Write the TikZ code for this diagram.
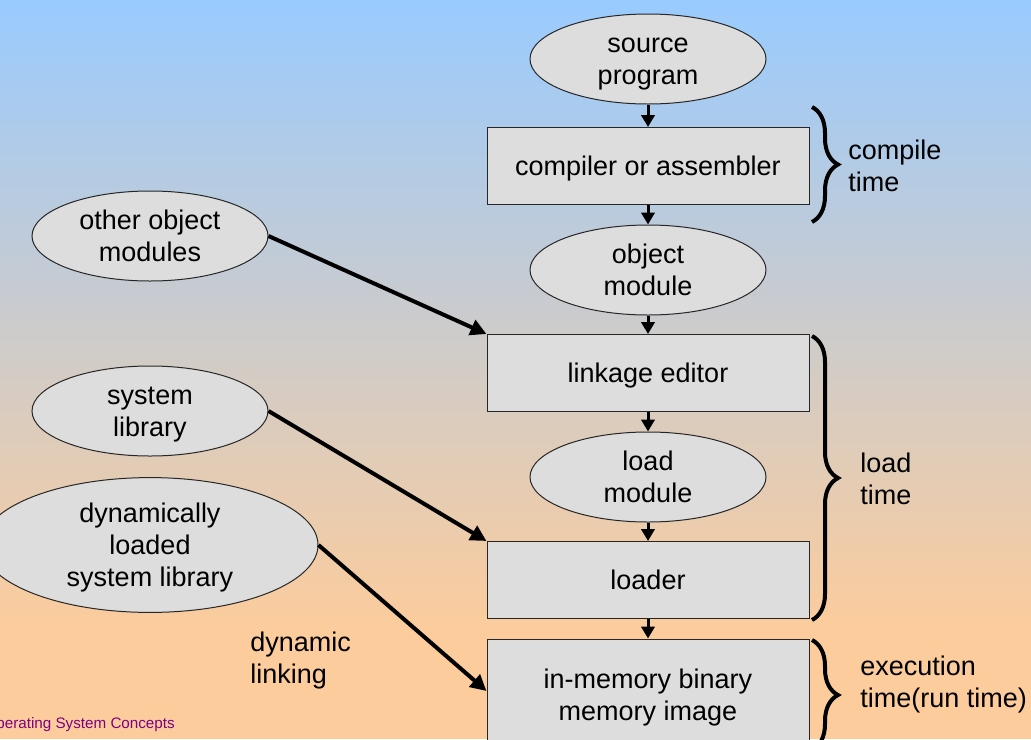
\documentclass[tikz,border=0pt]{standalone}
\usepackage{fontspec}
\setmainfont{Liberation Sans}
\usetikzlibrary{shapes.geometric,arrows.meta,decorations.pathreplacing}

\definecolor{skyblue}{RGB}{153,203,255}
\definecolor{lavender}{RGB}{212,203,218}
\definecolor{peach}{RGB}{252,204,156}
\definecolor{boxgray}{RGB}{221,221,221}
\definecolor{footpurple}{RGB}{128,0,128}

\newcommand{\diagfont}{\fontsize{20.25pt}{24pt}\selectfont}
\newcommand{\lift}{\rule{0pt}{19pt}}

\tikzset{
  centred/.style={execute at end node={\rule[-4.5pt]{0pt}{4.5pt}}},
  stage/.style={rectangle, draw=black!85, fill=boxgray, line width=0.75pt,
    minimum width=241.5pt, minimum height=57.75pt, align=center, font=\diagfont, centred},
  module/.style={ellipse, draw=black!85, fill=boxgray, line width=0.75pt,
    minimum width=177pt, minimum height=67.5pt, inner sep=0pt, align=center, font=\diagfont, centred},
  flow/.style={-{Triangle[width=10pt,length=9pt]}, line width=2.25pt},
  feed/.style={-{Triangle[width=12pt,length=12pt]}, line width=3pt},
  span/.style={decorate, decoration={brace, amplitude=19.5pt}, line width=3pt},
  note/.style={anchor=west, align=left, inner sep=0pt, font=\diagfont},
}

\begin{document}
\begin{tikzpicture}[x=0.75pt, y=-0.75pt]
  % slide background
  \useasboundingbox (0,0) rectangle (1031,739);
  \clip (0,0) rectangle (1031,739);
  \fill[peach] (0,0) rectangle (1031,739);
  \shade[top color=skyblue, middle color=lavender, bottom color=peach] (0,0) rectangle (1031,630);

  % main chain
  \node[module] (src) at (648,59) {\lift source\\program};
  \node[stage] (comp) at (648,166) {\lift compiler or assembler};
  \node[module] (obj) at (648,270) {\lift object\\module};
  \node[stage] (link) at (648,373) {\lift linkage editor};
  \node[module] (ldmod) at (648,477) {\lift load\\module};
  \node[stage] (ldr) at (648,580) {\lift loader};
  \node[stage, minimum height=84pt] (mem) at (648,695) {\lift in-memory binary\\memory image};

  \draw[flow] (src) -- (comp);
  \draw[flow] (comp) -- (obj);
  \draw[flow] (obj) -- (link);
  \draw[flow] (link) -- (ldmod);
  \draw[flow] (ldmod) -- (ldr);
  \draw[flow] (ldr) -- (mem);

  % side inputs
  \node[module] (other) at (150,236) {\lift other object\\modules};
  \node[module] (syslib) at (150,411) {\lift system\\library};
  \node[module, minimum width=252pt, minimum height=100.5pt] (dynlib) at (150,545) {\lift dynamically\\loaded\\system library};

  \draw[feed] (other.east) -- (link.north west);
  \draw[feed] (syslib.east) -- (ldr.north west);
  \draw[feed] (dynlib.east) -- ([yshift=3pt]mem.west);

  \node[note] (dlink) at (250,661) {dynamic\\linking};

  % time braces
  \coordinate (ctop) at (812,107);
  \coordinate (cbot) at (812,222);
  \coordinate (ltop) at (812,336);
  \coordinate (lbot) at (812,620);
  \coordinate (etop) at (812,640);
  \coordinate (ebot) at (812,750);
  \draw[span] (ctop) -- (cbot);
  \draw[span] (ltop) -- (lbot);
  \draw[span] (etop) -- (ebot);
  \node[note] (ctime) at (848,166) {compile\\time};
  \node[note] (ltime) at (860,479) {load\\time};
  \node[note] (etime) at (860,685) {execution\\time(run time)};

  \node[anchor=base east, inner sep=0pt, text=footpurple, font=\fontsize{11.4pt}{13pt}\selectfont] (foot) at (175,728) {Operating System Concepts};
\end{tikzpicture}
\end{document}
